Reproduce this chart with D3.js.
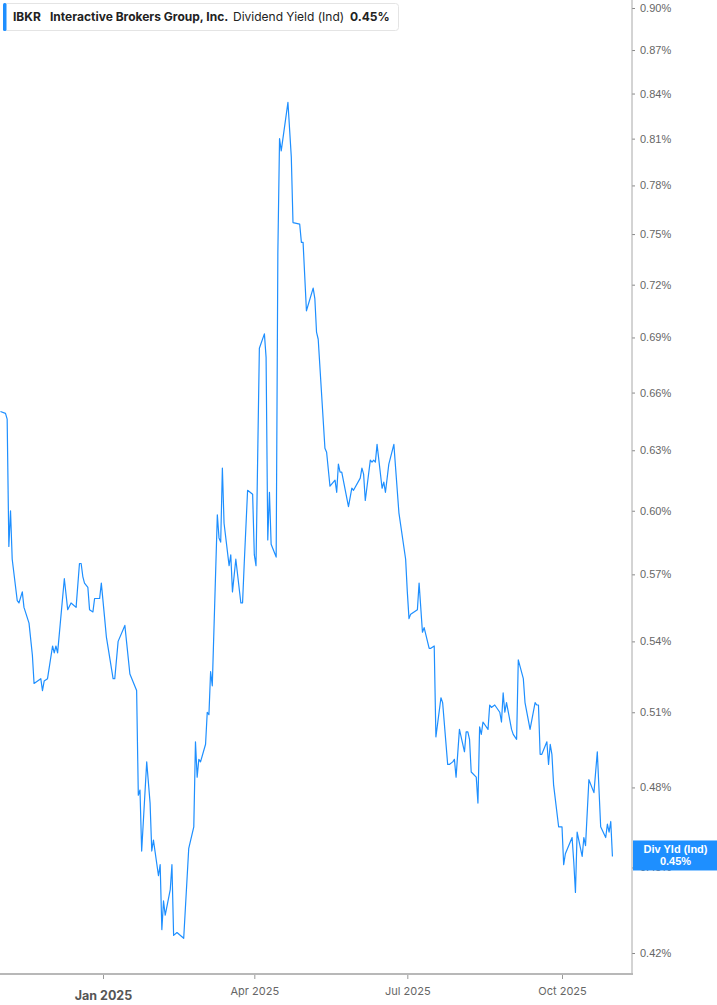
<!DOCTYPE html>
<html>
<head>
<meta charset="utf-8">
<script src="https://cdn.jsdelivr.net/npm/d3@7"></script>
<style>
  html, body { margin: 0; padding: 0; background: #fff; }
  svg { display: block; }
</style>
</head>
<body>
<svg id="chart" width="717" height="1005"></svg>
<script>
// ---------- DATA ----------
const dates = [
"2024-11-01","2024-11-04","2024-11-05","2024-11-06","2024-11-07","2024-11-08","2024-11-11","2024-11-12","2024-11-14","2024-11-15",
"2024-11-18","2024-11-20","2024-11-21","2024-11-25","2024-11-26","2024-11-27","2024-11-29","2024-12-02","2024-12-03","2024-12-04",
"2024-12-05","2024-12-09","2024-12-11","2024-12-13","2024-12-16","2024-12-18","2024-12-19","2024-12-20","2024-12-21","2024-12-23",
"2024-12-24","2024-12-26","2024-12-27","2024-12-30","2024-12-31","2025-01-02","2025-01-03","2025-01-07","2025-01-08","2025-01-10",
"2025-01-14","2025-01-17","2025-01-21","2025-01-22","2025-01-23","2025-01-24","2025-01-27","2025-01-29","2025-01-30","2025-01-31",
"2025-02-03","2025-02-04","2025-02-05","2025-02-06","2025-02-07","2025-02-10","2025-02-11","2025-02-12","2025-02-14","2025-02-18",
"2025-02-21","2025-02-24","2025-02-25","2025-02-26","2025-02-27","2025-02-28","2025-03-03","2025-03-04","2025-03-05","2025-03-06",
"2025-03-07","2025-03-10","2025-03-11","2025-03-12","2025-03-13","2025-03-14","2025-03-17","2025-03-18","2025-03-19","2025-03-21",
"2025-03-24","2025-03-25","2025-03-26","2025-03-28","2025-03-31","2025-04-01","2025-04-02","2025-04-04","2025-04-07","2025-04-08",
"2025-04-09","2025-04-10","2025-04-11","2025-04-14","2025-04-15","2025-04-16","2025-04-17","2025-04-21","2025-04-23","2025-04-24",
"2025-04-28","2025-04-29","2025-04-30","2025-05-02","2025-05-06","2025-05-07","2025-05-08","2025-05-09","2025-05-13","2025-05-14",
"2025-05-16","2025-05-19","2025-05-20","2025-05-21","2025-05-22","2025-05-23","2025-05-27","2025-05-29","2025-05-30","2025-06-03",
"2025-06-04","2025-06-05","2025-06-06","2025-06-09","2025-06-10","2025-06-11","2025-06-12","2025-06-13","2025-06-16","2025-06-17",
"2025-06-18","2025-06-20","2025-06-23","2025-06-26","2025-06-30","2025-07-01","2025-07-02","2025-07-03","2025-07-07","2025-07-08",
"2025-07-10","2025-07-11","2025-07-14","2025-07-15","2025-07-17","2025-07-18","2025-07-21","2025-07-22","2025-07-25","2025-07-26",
"2025-07-28","2025-07-29","2025-07-30","2025-08-01","2025-08-04","2025-08-05","2025-08-06","2025-08-07","2025-08-08","2025-08-11",
"2025-08-12","2025-08-13","2025-08-14","2025-08-15","2025-08-18","2025-08-19","2025-08-20","2025-08-22","2025-08-25","2025-08-26",
"2025-08-27","2025-08-28","2025-08-29","2025-09-01","2025-09-02","2025-09-04","2025-09-05","2025-09-08","2025-09-09","2025-09-12",
"2025-09-15","2025-09-16","2025-09-17","2025-09-18","2025-09-19","2025-09-22","2025-09-23","2025-09-24","2025-09-25","2025-09-26",
"2025-09-29","2025-10-01","2025-10-02","2025-10-03","2025-10-07","2025-10-08","2025-10-09","2025-10-10","2025-10-13","2025-10-14",
"2025-10-15","2025-10-17","2025-10-20","2025-10-22","2025-10-24","2025-10-27","2025-10-28","2025-10-29","2025-10-30","2025-10-31"
];
const divYield = [
0.650,0.649,0.646,0.583,0.600,0.577,0.558,0.557,0.562,0.555,
0.548,0.534,0.522,0.524,0.519,0.523,0.524,0.538,0.535,0.538,
0.535,0.568,0.554,0.557,0.555,0.575,0.575,0.569,0.566,0.564,
0.554,0.553,0.559,0.559,0.566,0.550,0.542,0.524,0.524,0.540,
0.547,0.526,0.519,0.477,0.479,0.456,0.490,0.474,0.456,0.460,
0.447,0.451,0.428,0.438,0.433,0.442,0.451,0.426,0.427,0.425,
0.457,0.465,0.498,0.484,0.491,0.490,0.497,0.510,0.509,0.527,
0.521,0.598,0.587,0.585,0.621,0.594,0.574,0.579,0.562,0.577,
0.557,0.557,0.575,0.610,0.608,0.579,0.574,0.684,0.692,0.679,
0.586,0.609,0.584,0.578,0.739,0.810,0.802,0.834,0.798,0.757,
0.756,0.745,0.745,0.705,0.718,0.712,0.693,0.689,0.631,0.629,
0.612,0.615,0.609,0.623,0.619,0.619,0.602,0.611,0.610,0.616,
0.621,0.618,0.605,0.625,0.624,0.625,0.624,0.633,0.611,0.614,
0.609,0.623,0.633,0.599,0.577,0.562,0.550,0.552,0.554,0.566,
0.544,0.546,0.537,0.537,0.538,0.500,0.516,0.514,0.489,0.489,
0.490,0.491,0.484,0.503,0.494,0.502,0.502,0.499,0.486,0.484,
0.474,0.504,0.501,0.506,0.503,0.513,0.512,0.513,0.510,0.506,
0.518,0.510,0.514,0.503,0.501,0.499,0.532,0.524,0.514,0.503,
0.514,0.513,0.513,0.493,0.493,0.498,0.489,0.497,0.493,0.481,
0.465,0.465,0.451,0.455,0.461,0.452,0.441,0.463,0.454,0.461,
0.458,0.483,0.478,0.494,0.465,0.461,0.466,0.463,0.467,0.454
];
const yTickValues = [0.42,0.45,0.48,0.51,0.54,0.57,0.60,0.63,0.66,0.69,0.72,0.75,0.78,0.81,0.84,0.87,0.90];
const xTickDates = ["2025-01-01","2025-04-01","2025-07-01","2025-10-01"];
const xTickLabels = ["Jan 2025","Apr 2025","Jul 2025","Oct 2025"];
const ticker = "IBKR";
const company = "Interactive Brokers Group, Inc.";
const metric = "Dividend Yield (Ind)";
const endTag = "Div Yld (Ind)";

// ---------- SETUP ----------
const parse = d3.timeParse("%Y-%m-%d");
const data = dates.map((d, i) => ({ date: parse(d), value: divYield[i] }));
const last = data[data.length - 1];
const fmt = v => v.toFixed(2) + "%";

const plotRight = 632, plotBottom = 974;
const blue = "#1e8fff";

const svg = d3.select("#chart");

const x = d3.scaleTime()
  .domain([parse("2025-01-01"), parse("2025-10-01")])
  .range([103, 562]);
const y = d3.scaleLog()
  .domain([0.42, 0.90])
  .range([953, 8]);

svg.append("defs").append("clipPath").attr("id", "clip")
  .append("rect").attr("x", 0).attr("y", 0).attr("width", plotRight).attr("height", plotBottom);

// line
const line = d3.line().x(d => x(d.date)).y(d => y(d.value));
svg.append("path")
  .datum(data)
  .attr("clip-path", "url(#clip)")
  .attr("fill", "none")
  .attr("stroke", blue)
  .attr("stroke-width", 1.2)
  .attr("stroke-linejoin", "round")
  .attr("d", line);

// y axis (right)
const yAxis = d3.axisRight(y).tickValues(yTickValues).tickFormat(fmt).tickSize(3).tickPadding(5);
const gy = svg.append("g").attr("transform", `translate(${plotRight},0)`).call(yAxis);
gy.select(".domain").remove();
gy.selectAll(".tick line").attr("stroke", "#888");
gy.selectAll(".tick text")
  .attr("fill", "#666")
  .style("font-family", "'Liberation Sans', Arial, sans-serif")
  .style("font-size", "11px");
svg.append("line")
  .attr("x1", plotRight).attr("x2", plotRight)
  .attr("y1", 0).attr("y2", plotBottom)
  .attr("stroke", "#a8a8a8").attr("stroke-width", 1);

// x axis
const xAxis = d3.axisBottom(x)
  .tickValues(xTickDates.map(parse))
  .tickFormat((d, i) => xTickLabels[i])
  .tickSize(5).tickPadding(8);
const gx = svg.append("g").attr("transform", `translate(0,${plotBottom})`).call(xAxis);
gx.select(".domain").remove();
gx.selectAll(".tick line").attr("stroke", "#999");
gx.selectAll(".tick text")
  .attr("fill", "#666")
  .style("font-family", "Inter, 'Liberation Sans', sans-serif")
  .style("font-size", "11px");
gx.selectAll(".tick text").filter((d, i) => i === 0)
  .attr("fill", "#555")
  .attr("dy", "1.0em")
  .style("font-weight", "700")
  .style("font-size", "12.5px");
svg.append("line")
  .attr("x1", 0).attr("x2", plotRight + 1)
  .attr("y1", plotBottom).attr("y2", plotBottom)
  .attr("stroke", "#b8b8b8").attr("stroke-width", 2);

// end value tag
const tagY = y(last.value);
const tag = svg.append("g");
tag.append("rect")
  .attr("x", plotRight + 1).attr("y", tagY - 16)
  .attr("width", 717 - plotRight - 1).attr("height", 30)
  .attr("fill", blue);
tag.append("text")
  .attr("x", (plotRight + 717) / 2 + 1).attr("y", tagY - 3)
  .attr("text-anchor", "middle")
  .attr("fill", "#fff")
  .style("font-family", "'Liberation Sans', Arial, sans-serif")
  .style("font-size", "11px").style("font-weight", "700")
  .text(endTag);
tag.append("text")
  .attr("x", (plotRight + 717) / 2 + 1).attr("y", tagY + 9)
  .attr("text-anchor", "middle")
  .attr("fill", "#fff")
  .style("font-family", "'Liberation Sans', Arial, sans-serif")
  .style("font-size", "11px").style("font-weight", "700")
  .text(fmt(last.value));

// legend
const lg = svg.append("g");
lg.append("rect")
  .attr("x", 3.5).attr("y", 3.5).attr("width", 395).attr("height", 27).attr("rx", 3)
  .attr("fill", "#fff").attr("stroke", "#e4e4e4");
lg.append("rect")
  .attr("x", 3).attr("y", 3).attr("width", 3.5).attr("height", 28).attr("rx", 1.5)
  .attr("fill", blue);
const lgFont = "Inter, 'Liberation Sans', sans-serif";
const legendItems = [
  { t: ticker, x: 13, w: 700 },
  { t: company, x: 50, w: 700 },
  { t: metric, x: 233, w: 400 },
  { t: fmt(last.value), x: 350, w: 700 }
];
lg.selectAll("text.leg").data(legendItems).enter().append("text")
  .attr("class", "leg")
  .attr("x", d => d.x).attr("y", 20.5)
  .attr("fill", "#222")
  .style("font-family", lgFont)
  .style("font-size", "12px")
  .style("font-weight", d => d.w)
  .text(d => d.t);
</script>
</body>
</html>
